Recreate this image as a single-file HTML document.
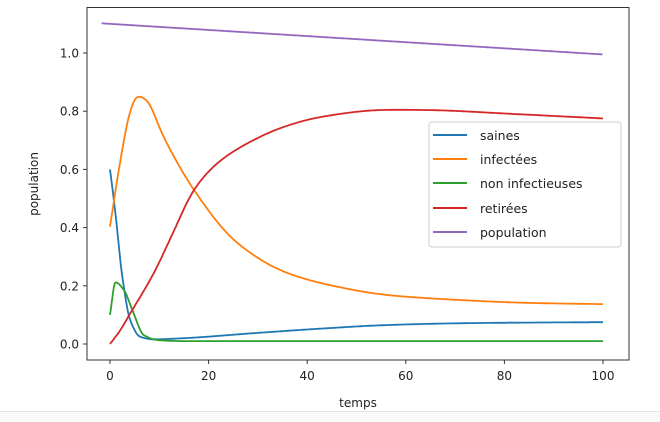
<!DOCTYPE html>
<html><head><style>body{margin:0;background:#fff;}svg{display:block;font-family:"DejaVu Sans","Liberation Sans",sans-serif;}</style></head>
<body>
<svg id="s" width="660" height="422" xmlns="http://www.w3.org/2000/svg">
<rect x="0" y="0" width="660" height="422" fill="#fff"/>
<line x1="0" y1="411.5" x2="660" y2="411.5" stroke="#e6e6e6"/>
<rect x="0" y="412" width="660" height="10" fill="#fafafa"/>
<g id="plot"></g>
<rect x="87" y="7.5" width="542" height="352.5" fill="none" stroke="#333" stroke-width="1"/>
<g id="ticks" font-size="12" fill="#222"></g>
<text x="358" y="407" font-size="12" text-anchor="middle" fill="#222">temps</text>
<text transform="translate(38,184) rotate(-90)" font-size="12" text-anchor="middle" fill="#222">population</text>
<g>
<rect x="429" y="122" width="192" height="125" rx="3" fill="#fff" fill-opacity="0.85" stroke="#ccc"/>
<line x1="433" y1="135" x2="467" y2="135" stroke="#1f77b4" stroke-width="2"/>
<line x1="433" y1="159" x2="467" y2="159" stroke="#ff7f0e" stroke-width="2"/>
<line x1="433" y1="183" x2="467" y2="183" stroke="#2ca02c" stroke-width="2"/>
<line x1="433" y1="208" x2="467" y2="208" stroke="#d62728" stroke-width="2"/>
<line x1="433" y1="232" x2="467" y2="232" stroke="#9467bd" stroke-width="2"/>
<g font-size="12.5" fill="#222">
<text x="480" y="140">saines</text>
<text x="480" y="164">infectées</text>
<text x="480" y="188">non infectieuses</text>
<text x="480" y="213">retirées</text>
<text x="480" y="237">population</text>
</g></g>
</svg>
<script>
var X=function(t){return 110+t*4.93;},Y=function(v){return 344-v*291;};
var D=[
['#1f77b4',[[0,0.6],[1.1,0.45],[2.4,0.244],[4.1,0.082],[6.1,0.025],[8.9,0.016],[15,0.02],[29,0.037],[42,0.052],[56,0.065],[70,0.071],[80,0.073],[100,0.075]],0.3],
['#ff7f0e',[[0,0.403],[2.1,0.63],[4.1,0.80],[5.5,0.852],[7.2,0.842],[10.9,0.71],[17,0.53],[25.8,0.347],[35.9,0.244],[46,0.197],[56.2,0.168],[70,0.152],[85,0.141],[100,0.137]],1],
['#2ca02c',[[0,0.1],[1.1,0.212],[2.8,0.186],[4.8,0.105],[6.8,0.031],[10,0.013],[15,0.01],[100,0.01]],0.3],
['#d62728',[[0,0],[2,0.045],[4.1,0.105],[8.9,0.244],[13,0.39],[17,0.53],[22,0.625],[29,0.70],[35,0.745],[42.6,0.78],[56,0.805],[65,0.804],[80,0.792],[100,0.775]],1],
['#9467bd',[[-1.7,1.102],[100,0.995]],0]
];
function pchip(pts){var n=pts.length,h=[],del=[],m=[];
for(var i=0;i<n-1;i++){h[i]=pts[i+1][0]-pts[i][0];del[i]=(pts[i+1][1]-pts[i][1])/h[i];}
m[0]=del[0];m[n-1]=del[n-2];
for(var i=1;i<n-1;i++){if(del[i-1]*del[i]<=0)m[i]=0;else{var w1=2*h[i]+h[i-1],w2=h[i]+2*h[i-1];m[i]=(w1+w2)/(w1/del[i-1]+w2/del[i]);}}
return function(t){if(t<pts[0][0])t=pts[0][0];if(t>pts[n-1][0])t=pts[n-1][0];var i=0;while(i<n-2&&t>pts[i+1][0])i++;var s=(t-pts[i][0])/h[i],hh=h[i];
var h00=2*s*s*s-3*s*s+1,h10=s*s*s-2*s*s+s,h01=-2*s*s*s+3*s*s,h11=s*s*s-s*s;
return h00*pts[i][1]+h10*hh*m[i]+h01*pts[i+1][1]+h11*hh*m[i+1];};}
var h='';
D.forEach(function(d){var f=pchip(d[1]),t0=d[1][0][0],p=[],k=d[2];
for(var t=t0;t<=100.0001;t+=0.2){
 var sg=k*(0.04*t+0.25);sg=Math.min(sg,t-t0,100-t)/1;var v;
 if(sg<0.05)v=f(t);else{var sw=0,sv=0;for(var j=-20;j<=20;j++){var u=t+j*sg/8,w=Math.exp(-Math.pow(j/8,2)/2);sw+=w;sv+=w*f(u);}v=sv/sw;}
 p.push(X(t).toFixed(1)+','+Y(v).toFixed(1));}
h+='<polyline points="'+p.join(' ')+'" fill="none" stroke="'+d[0]+'" stroke-width="1.8" stroke-linejoin="round"/>';});
document.getElementById('plot').innerHTML=h;
var tk='';
for(var i=0;i<=5;i++){var x=X(i*20);tk+='<line x1="'+x+'" y1="360" x2="'+x+'" y2="364" stroke="#333"/><text x="'+x+'" y="380" text-anchor="middle">'+(i*20)+'</text>';
var y=Y(i*0.2);tk+='<line x1="83" y1="'+y+'" x2="87" y2="'+y+'" stroke="#333"/><text x="79" y="'+(y+4.5)+'" text-anchor="end">'+(i*0.2).toFixed(1)+'</text>';}
document.getElementById('ticks').innerHTML=tk;
</script>
</body></html>
